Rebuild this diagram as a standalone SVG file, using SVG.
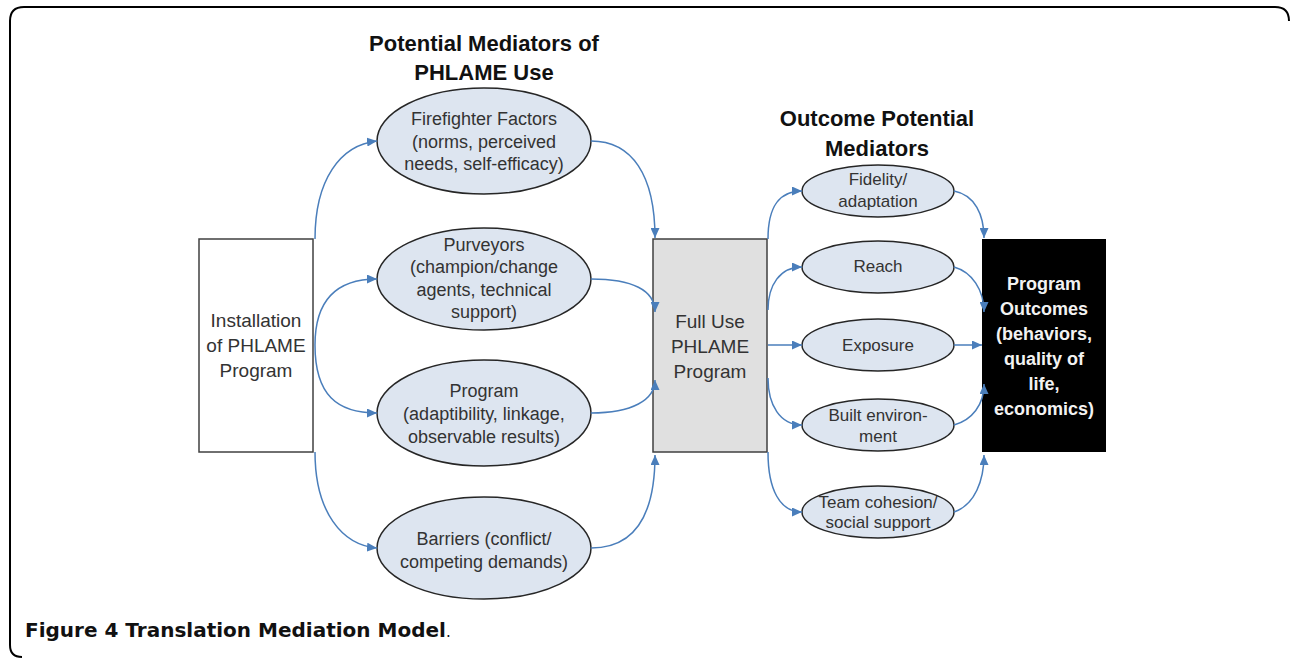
<svg xmlns="http://www.w3.org/2000/svg" width="1290" height="662" viewBox="0 0 1290 662">
<defs>
<marker id="arr" markerUnits="userSpaceOnUse" markerWidth="10" markerHeight="9" refX="10" refY="4.5" orient="auto">
<path d="M0,0 L10,4.5 L0,9 z" fill="#4a7ebb"/>
</marker>
<style>
.t{font-family:"Liberation Sans",Arial,sans-serif;fill:#333;text-anchor:middle}
.e{font-size:18px}
.s{font-size:17px}
.bx{font-size:19px}
.h{font-family:"Liberation Sans",Arial,sans-serif;font-weight:bold;font-size:22px;fill:#111;text-anchor:middle}
.ell{fill:#dde5f0;stroke:#262626;stroke-width:1.5}
.c{fill:none;stroke:#4a7ebb;stroke-width:1.5;marker-end:url(#arr)}
</style>
</defs>
<rect width="1290" height="662" fill="#fff"/>
<path d="M1289,21 Q1289,7 1275,7 L24,7 Q10,7 10,21 L10,645 Q10,657 22,657" fill="none" stroke="#000" stroke-width="2"/>

<text class="h" x="484" y="51">Potential Mediators of</text>
<text class="h" x="484" y="80">PHLAME Use</text>
<text class="h" x="877" y="126">Outcome Potential</text>
<text class="h" x="877" y="156">Mediators</text>

<g id="installation">
<rect x="199" y="239" width="114" height="213" fill="#fff" stroke="#404040" stroke-width="1.5"/>
<text class="t bx" x="256" y="327">Installation</text>
<text class="t bx" x="256" y="352">of PHLAME</text>
<text class="t bx" x="256" y="377">Program</text>
</g>

<g id="firefighter">
<ellipse class="ell" cx="484" cy="141" rx="107" ry="53"/>
<text class="t e" x="484" y="125">Firefighter Factors</text>
<text class="t e" x="484" y="148">(norms, perceived</text>
<text class="t e" x="484" y="170">needs, self-efficacy)</text>
</g>

<g id="purveyors">
<ellipse class="ell" cx="484" cy="279" rx="107" ry="51"/>
<text class="t e" x="484" y="251">Purveyors</text>
<text class="t e" x="484" y="273">(champion/change</text>
<text class="t e" x="484" y="296">agents, technical</text>
<text class="t e" x="484" y="318">support)</text>
</g>

<g id="program">
<ellipse class="ell" cx="484" cy="413" rx="107" ry="53"/>
<text class="t e" x="484" y="397">Program</text>
<text class="t e" x="484" y="420">(adaptibility, linkage,</text>
<text class="t e" x="484" y="443">observable results)</text>
</g>

<g id="barriers">
<ellipse class="ell" cx="484" cy="548" rx="107" ry="51"/>
<text class="t e" x="484" y="545">Barriers (conflict/</text>
<text class="t e" x="484" y="568">competing demands)</text>
</g>

<g id="fulluse">
<rect x="653" y="239" width="114" height="213" fill="#e0e0e0" stroke="#404040" stroke-width="1.5"/>
<text class="t bx" x="710" y="328">Full Use</text>
<text class="t bx" x="710" y="353">PHLAME</text>
<text class="t bx" x="710" y="378">Program</text>
</g>

<g id="fidelity">
<ellipse class="ell" cx="878" cy="191" rx="76" ry="26"/>
<text class="t s" x="878" y="185">Fidelity/</text>
<text class="t s" x="878" y="207">adaptation</text>
</g>

<g id="reach">
<ellipse class="ell" cx="878" cy="267" rx="76" ry="26"/>
<text class="t s" x="878" y="272">Reach</text>
</g>

<g id="exposure">
<ellipse class="ell" cx="878" cy="345" rx="76" ry="26"/>
<text class="t s" x="878" y="351">Exposure</text>
</g>

<g id="built">
<ellipse class="ell" cx="878" cy="425" rx="76" ry="26"/>
<text class="t s" x="878" y="421">Built environ-</text>
<text class="t s" x="878" y="442">ment</text>
</g>

<g id="team">
<ellipse class="ell" cx="878" cy="512" rx="76" ry="26"/>
<text class="t s" x="878" y="508">Team cohesion/</text>
<text class="t s" x="878" y="528">social support</text>
</g>

<g id="outcomes">
<rect x="982" y="239" width="124" height="213" fill="#000"/>
<g font-family="Liberation Sans,Arial,sans-serif" font-weight="bold" font-size="18" fill="#f2f2f2" text-anchor="middle">
<text x="1044" y="290">Program</text>
<text x="1044" y="315">Outcomes</text>
<text x="1044" y="340">(behaviors,</text>
<text x="1044" y="365">quality of</text>
<text x="1044" y="390">life,</text>
<text x="1044" y="415">economics)</text>
</g>
</g>

<g id="connectors">
<path class="c" d="M315,239 C315,180 340,145 377,141"/>
<path class="c" d="M315,345 C315,300 337,279 377,279"/>
<path class="c" d="M315,345 C315,395 337,413 377,413"/>
<path class="c" d="M315,452 C315,512 342,545 377,548"/>
<path class="c" d="M591,141 C632,141 655,175 655,238"/>
<path class="c" d="M591,279 C632,279 655,290 655,312"/>
<path class="c" d="M591,413 C632,413 655,400 655,380"/>
<path class="c" d="M591,548 C632,548 655,520 655,455"/>
<path class="c" d="M768,239 C768,205 780,191 802,191"/>
<path class="c" d="M768,310 C768,285 780,267 802,267"/>
<path class="c" d="M768,345 L802,345"/>
<path class="c" d="M768,378 C768,405 780,425 802,425"/>
<path class="c" d="M768,452 C768,490 780,512 802,512"/>
<path class="c" d="M954,191 C975,195 984,215 984,238"/>
<path class="c" d="M954,267 C972,272 984,290 984,312"/>
<path class="c" d="M954,345 L982,345"/>
<path class="c" d="M954,425 C972,420 984,405 984,384"/>
<path class="c" d="M954,512 C975,505 984,480 984,455"/>
</g>

<text x="25" y="637" font-family="DejaVu Sans,Verdana,sans-serif" font-size="20" fill="#111"><tspan font-weight="bold">Figure 4</tspan><tspan font-weight="bold"> Translation Mediation Model</tspan><tspan font-size="15">.</tspan></text>
</svg>
